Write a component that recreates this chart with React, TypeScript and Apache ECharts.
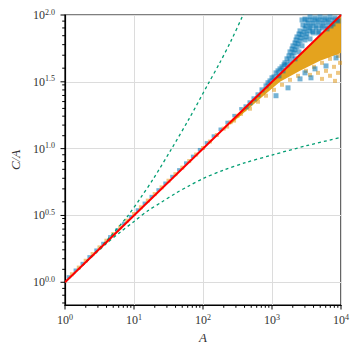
import React, { useEffect, useRef } from "react";
import * as echarts from "echarts";

// All positions are log10 values (the chart is log-log)
const xMin = 0;
const xMax = 4;
const yMin = -0.17;
const yMax = 2;
const xMajorTicks = [0, 1, 2, 3, 4];
const yMajorTicks = [0, 0.5, 1, 1.5, 2];
const xMinorTickValues = [
  2, 3, 4, 5, 6, 7, 8, 9,
  20, 30, 40, 50, 60, 70, 80, 90,
  200, 300, 400, 500, 600, 700, 800, 900,
  2000, 3000, 4000, 5000, 6000, 7000, 8000, 9000,
];
const yMinorTickValues = [
  0.7, 0.8, 0.9,
  1.25, 1.5, 1.75, 2, 2.25, 2.5, 2.75, 3,
  4, 5, 6, 7, 8, 9,
  12.5, 15, 17.5, 20, 22.5, 25, 27.5, 30,
  40, 50, 60, 70, 80, 90,
];

// orange scatter (log10 A, log10 C/A)
const orangeLogA = [
  0.1, 0.2, 0.3, 0.4, 0.5, 0.6, 0.7, 0.8, 0.9, 1.0, 1.1, 1.2, 1.3,
  1.4, 1.5, 1.6, 1.7, 1.8, 1.9, 2.0, 2.1, 2.2, 2.3, 2.4, 2.5, 2.6,
  2.35, 2.45, 2.55,
  2.681, 2.797, 2.913, 3.029, 3.145, 3.261, 3.377, 3.493, 3.609, 3.725,
  3.841, 3.957, 3.667, 3.783, 3.899, 3.986, 3.725, 3.841, 3.957, 3.551, 3.913,
];
const orangeLogCA = [
  0.06, 0.11, 0.161, 0.211, 0.261, 0.311, 0.361, 0.411, 0.461, 0.511, 0.561, 0.611, 0.66,
  0.71, 0.76, 0.809, 0.858, 0.907, 0.956, 1.005, 1.053, 1.102, 1.15, 1.198, 1.246, 1.294,
  1.165, 1.21, 1.26,
  1.299, 1.351, 1.396, 1.44, 1.478, 1.515, 1.545, 1.582, 1.612, 1.642,
  1.672, 1.694, 1.567, 1.582, 1.612, 1.642, 1.522, 1.545, 1.567, 1.552, 1.507,
];

// dense orange core (outline)
const orangeCoreLogA = [2.391, 2.609, 2.826, 3.116, 3.406, 3.696, 4.0, 4.0, 3.406, 2.826, 2.391];
const orangeCoreLogCA = [1.179, 1.276, 1.373, 1.5, 1.582, 1.657, 1.716, 2.0, 1.703, 1.413, 1.196];

// blue scatter
const blueLogA = [
  0.05, 0.15, 0.25, 0.35, 0.45, 0.55, 0.65, 0.75, 0.85, 0.95, 1.05, 1.15, 1.25,
  1.35, 1.45, 1.55, 1.65, 1.75, 1.85, 1.95, 2.05, 2.15, 2.25, 2.35, 2.45, 2.55,
  3.478, 3.551, 3.623, 3.696, 3.768, 3.841, 3.913, 3.957,
  3.449, 3.522, 3.594, 3.667, 3.739, 3.812, 3.884,
  3.406, 3.478, 3.551, 3.638, 3.725, 3.797,
  3.362, 3.435, 3.507, 3.594, 3.667,
  3.333, 3.406, 3.478, 3.551,
  3.29, 3.362, 3.435,
  3.246, 3.319, 3.391,
  3.188, 3.261, 3.333,
  3.145, 3.217,
  3.087, 3.159,
  3.029, 3.101,
  2.971, 2.913, 2.855, 2.797, 2.739, 2.681, 2.623,
  3.058, 3.232, 3.406, 3.565, 3.623, 3.783, 3.928, 3.478,
  3.435, 3.507, 3.58, 3.652, 3.725, 3.797, 3.87, 3.942,
  3.493, 3.565, 3.638, 3.71, 3.783, 3.855,
  3.594, 3.681,
  3.391, 3.464, 3.536, 3.348, 3.42, 3.493, 3.304, 3.377,
  3.261, 3.333, 3.217, 3.29, 3.174, 3.116, 3.058, 3.0, 2.942,
];
const blueLogCA = [
  0.04, 0.09, 0.14, 0.19, 0.24, 0.29, 0.34, 0.39, 0.44, 0.49, 0.541, 0.591, 0.641,
  0.691, 0.741, 0.791, 0.841, 0.892, 0.942, 0.992, 1.043, 1.094, 1.145, 1.196, 1.247, 1.298,
  1.97, 1.985, 1.978, 1.985, 1.978, 1.985, 1.978, 1.955,
  1.925, 1.94, 1.94, 1.948, 1.94, 1.948, 1.933,
  1.881, 1.896, 1.903, 1.903, 1.903, 1.896,
  1.836, 1.851, 1.858, 1.866, 1.866,
  1.791, 1.806, 1.813, 1.821,
  1.746, 1.761, 1.769,
  1.694, 1.716, 1.724,
  1.642, 1.657, 1.672,
  1.612, 1.627,
  1.582, 1.582,
  1.537, 1.545,
  1.507, 1.47, 1.44, 1.403, 1.373, 1.343, 1.313,
  1.396, 1.455, 1.522, 1.53, 1.597, 1.619, 1.679, 1.567,
  1.963, 1.963, 1.963, 1.963, 1.963, 1.963, 1.963, 1.963,
  1.918, 1.918, 1.918, 1.918, 1.918, 1.918,
  1.877, 1.877,
  1.858, 1.873, 1.881, 1.813, 1.828, 1.836, 1.769, 1.784,
  1.724, 1.739, 1.672, 1.694, 1.627, 1.597, 1.567, 1.53, 1.493,
];

// red reference line C/A = A^(1/2)
const refLogA = [0, 4];
const refLogCA = [0, 2];

// green dashed bounds
const upperLogA = [0, 0.3, 0.6, 0.9, 1.1, 1.28, 1.546, 1.8, 2.07, 2.246, 2.4, 2.58, 2.63];
const upperLogCA = [0, 0.152, 0.31, 0.49, 0.635, 0.774, 1.0, 1.225, 1.48, 1.645, 1.8, 2.0, 2.06];
const lowerLogA = [0, 0.3, 0.6, 0.8, 1.0, 1.2, 1.4, 1.6, 1.8, 2.0, 2.3, 2.6, 3.0, 3.5, 4.0];
const lowerLogCA = [0, 0.148, 0.29, 0.375, 0.455, 0.535, 0.6, 0.665, 0.722, 0.776, 0.84, 0.893, 0.952, 1.022, 1.084];

const FONT = "Liberation Serif";
const TXT = "#333333";

const zip = (a: number[], b: number[]) => a.map((v, i) => [v, b[i]]);

export default function App() {
  const ref = useRef<HTMLDivElement>(null);
  useEffect(() => {
    if (!ref.current) return;
    const chart = echarts.init(ref.current, null, { renderer: "svg" });
    const rich = {
      b: { fontFamily: FONT, fontSize: 12, color: TXT, lineHeight: 14 },
      s: { fontFamily: FONT, fontSize: 8, color: TXT, lineHeight: 8, verticalAlign: "top" },
    };
    const corePoly = zip(orangeCoreLogA, orangeCoreLogCA);
    const option: any = {
      animation: false,
      textStyle: { fontFamily: FONT, color: TXT },
      grid: {
        left: 65,
        right: 16,
        top: 15,
        bottom: 52,
        show: true,
        borderColor: "#000",
        borderWidth: 1.2,
        backgroundColor: "transparent",
      },
      xAxis: {
        type: "value",
        min: xMin,
        max: xMax,
        interval: 1,
        position: "bottom",
        name: "A",
        nameLocation: "middle",
        nameGap: 23,
        nameTextStyle: { fontFamily: FONT, fontStyle: "italic", fontSize: 13, color: TXT },
        axisLine: { show: true, onZero: false, lineStyle: { color: "#000", width: 1.2 } },
        axisTick: { show: false },
        axisLabel: {
          margin: 8,
          color: TXT,
          formatter: (v: number) => `{b|10}{s|${Math.round(v)}}`,
          rich,
        },
        splitLine: { show: true, lineStyle: { color: "#dcdcdc", width: 1 } },
      },
      yAxis: {
        type: "value",
        min: yMin,
        max: yMax,
        position: "left",
        name: "C/A",
        nameLocation: "middle",
        nameGap: 38,
        nameRotate: 90,
        nameTextStyle: { fontFamily: FONT, fontStyle: "italic", fontSize: 13, color: TXT },
        axisLine: { show: true, onZero: false, lineStyle: { color: "#000", width: 1.2 } },
        axisTick: { show: false, customValues: yMajorTicks },
        axisLabel: {
          margin: 10,
          color: TXT,
          customValues: yMajorTicks,
          formatter: (v: number) => `{b|10}{s|${v.toFixed(1)}}`,
          rich,
        },
        splitLine: { show: true, lineStyle: { color: "#dcdcdc", width: 1 } },
      },
      series: [
        {
          type: "custom",
          clip: true,
          data: [corePoly[0]],
          renderItem: (_p: any, api: any) => ({
            type: "polygon",
            shape: { points: corePoly.map((p) => api.coord(p)) },
            style: { fill: "#e39e12", opacity: 0.95 },
          }),
          silent: true,
        },
        {
          type: "scatter",
          symbol: "rect",
          symbolSize: 4,
          data: zip(orangeLogA, orangeLogCA),
          itemStyle: { color: "#de8f05", opacity: 0.5 },
        },
        {
          type: "scatter",
          symbol: "rect",
          symbolSize: (v: number[]) => (v[0] < 2.6 ? 3.5 : 5),
          data: zip(blueLogA, blueLogCA),
          itemStyle: { color: "#0173b2", opacity: 0.55 },
        },
        {
          type: "line",
          data: zip(upperLogA, upperLogCA),
          smooth: 0.3,
          showSymbol: false,
          symbol: "none",
          lineStyle: { color: "#029e73", width: 1.3, type: [3, 3] },
        },
        {
          type: "line",
          data: zip(lowerLogA, lowerLogCA),
          smooth: 0.3,
          showSymbol: false,
          symbol: "none",
          lineStyle: { color: "#029e73", width: 1.3, type: [3, 3] },
        },
        {
          type: "line",
          data: zip(refLogA, refLogCA),
          showSymbol: false,
          symbol: "none",
          lineStyle: { color: "#ff0000", width: 2 },
        },
      ],
    };
    chart.setOption(option);

    // tick marks placed through the chart's own scales
    const toPx = (p: number[]) => chart.convertToPixel({ gridIndex: 0 }, p) as number[];
    const els: any[] = [];
    const addX = (v: number, len: number) => {
      const p = toPx([v, yMin]);
      els.push({
        type: "line",
        z: 100,
        shape: { x1: p[0], y1: p[1], x2: p[0], y2: p[1] + len },
        style: { stroke: "#000", lineWidth: 1 },
      });
    };
    const addY = (v: number, len: number) => {
      const p = toPx([xMin, v]);
      els.push({
        type: "line",
        z: 100,
        shape: { x1: p[0], y1: p[1], x2: p[0] - len, y2: p[1] },
        style: { stroke: "#000", lineWidth: 1 },
      });
    };
    xMajorTicks.forEach((v) => addX(v, 4.5));
    xMinorTickValues.forEach((v) => addX(Math.log10(v), 2.8));
    yMajorTicks.forEach((v) => addY(v, 4.5));
    yMinorTickValues.forEach((v) => addY(Math.log10(v), 2.8));
    chart.setOption({ graphic: { elements: els } });

    return () => chart.dispose();
  }, []);
  return (
    <div
      ref={ref}
      style={{ position: "fixed", left: 0, top: 0, width: 357, height: 357, background: "#fff" }}
    />
  );
}
